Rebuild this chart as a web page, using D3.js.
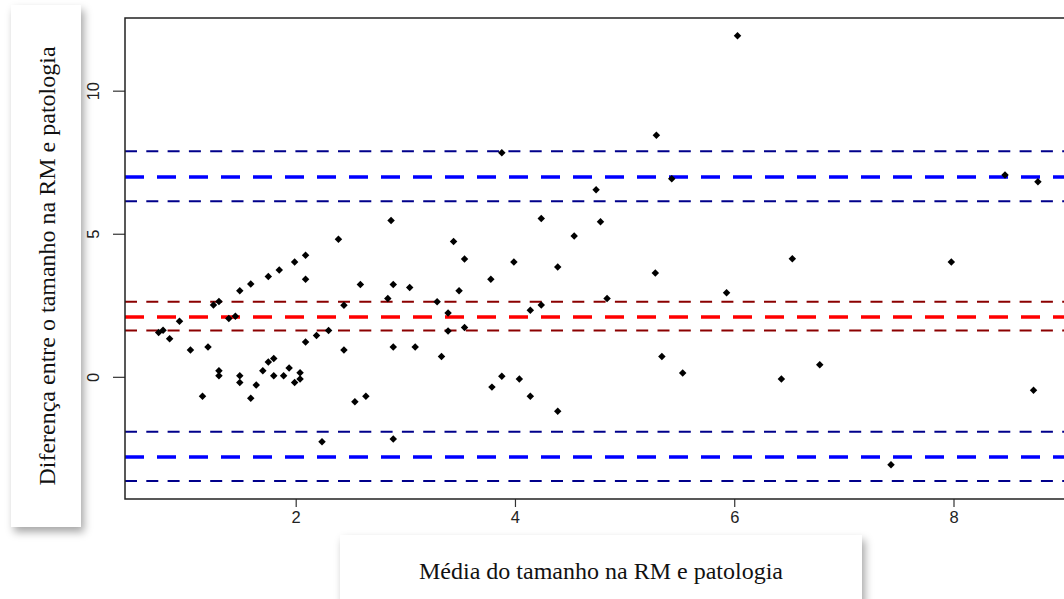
<!DOCTYPE html>
<html>
<head>
<meta charset="utf-8">
<script src="https://cdn.jsdelivr.net/npm/d3@7"></script>
<style>
  body { margin: 0; background: #fff; }
  svg { display: block; }
</style>
</head>
<body>
<div id="chart"></div>
<script>
// --- DATA ---
const meanVals = [0.75, 0.79, 0.85, 0.94, 1.04, 1.15, 1.20, 1.25, 1.30, 1.30, 1.30, 1.39, 1.45, 1.49, 1.49, 1.49,
  1.59, 1.59, 1.64, 1.70, 1.75, 1.75, 1.80, 1.80, 1.85, 1.89, 1.94, 1.99, 1.99, 2.04, 2.04, 2.09, 2.09, 2.09,
  2.19, 2.24, 2.30, 2.39, 2.44, 2.44, 2.54, 2.59, 2.64, 2.84, 2.89, 2.89, 2.89, 3.04, 3.09, 2.87, 3.29, 3.39,
  3.39, 3.33, 3.44, 3.49, 3.54, 3.54, 3.78, 3.79, 3.88, 3.88, 3.99, 4.04, 4.14, 4.14, 4.24, 4.24, 4.39, 4.39,
  4.54, 4.74, 4.78, 4.84, 5.29, 5.28, 5.34, 5.43, 5.53, 6.03, 5.93, 6.53, 6.43, 6.78, 7.43, 7.98, 8.47, 8.77, 8.73];
const diffVals = [1.55, 1.63, 1.33, 1.94, 0.94, -0.68, 1.04, 2.51, 2.63, 0.21, 0.04, 2.04, 2.12, 3.01, 0.04, -0.20,
  3.24, -0.75, -0.29, 0.21, 3.51, 0.52, 0.64, 0.04, 3.73, 0.04, 0.31, 4.01, -0.20, -0.08, 0.14, 4.25, 3.41, 1.22,
  1.44, -2.27, 1.62, 4.81, 2.50, 0.94, -0.87, 3.23, -0.68, 2.74, 3.23, 1.04, -2.17, 3.12, 1.04, 5.46, 2.62, 2.23,
  1.60, 0.71, 4.73, 3.01, 4.12, 1.72, 3.41, -0.36, 0.02, 7.83, 4.01, -0.08, 2.33, -0.68, 2.51, 5.53, 3.84, -1.20,
  4.92, 6.54, 5.42, 2.74, 8.44, 3.63, 0.71, 6.92, 0.13, 11.92, 2.94, 4.13, -0.08, 0.42, -3.07, 4.01, 7.05, 6.82, -0.47];

// reference lines: mean difference, limits of agreement and their CIs
const bias = 2.09, biasLo = 1.62, biasHi = 2.62;
const loaUp = 6.98, loaUpLo = 6.14, loaUpHi = 7.88;
const loaDn = -2.80, loaDnLo = -3.64, loaDnHi = -1.92;

const xTicks = [2, 4, 6, 8];
const yTicks = [0, 5, 10];
const xTitle = "Média do tamanho na RM e patologia";
const yTitle = "Diferença entre o tamanho na RM e patologia";

// --- SETUP ---
const width = 1064, height = 599;
const plot = { left: 125, top: 18, right: 1073, bottom: 499 };

const svg = d3.select("#chart").append("svg")
  .attr("width", width).attr("height", height);

const defs = svg.append("defs");
const shadow = defs.append("filter").attr("id", "shadow")
  .attr("x", "-20%").attr("y", "-10%").attr("width", "150%").attr("height", "130%");
shadow.append("feDropShadow")
  .attr("dx", 3).attr("dy", 5).attr("stdDeviation", 4)
  .attr("flood-color", "#000").attr("flood-opacity", 0.35);

defs.append("clipPath").attr("id", "clip").append("rect")
  .attr("x", plot.left).attr("y", plot.top)
  .attr("width", plot.right - plot.left).attr("height", plot.bottom - plot.top);

// Scales
const x = d3.scaleLinear().domain([0.443, 9.09]).range([plot.left, plot.right]);
const y = d3.scaleLinear().domain([-4.27, 12.54]).range([plot.bottom, plot.top]);

// Horizontal reference lines
const refLines = [
  { v: loaUpHi, color: "#00008B", w: 2, dash: "12 9.3" },
  { v: loaUp,   color: "#0000FF", w: 3.5, dash: "19 13" },
  { v: loaUpLo, color: "#00008B", w: 2, dash: "12 9.3" },
  { v: biasHi,  color: "#8B0000", w: 2, dash: "12 9.3" },
  { v: bias,    color: "#FF0000", w: 3.5, dash: "19 13" },
  { v: biasLo,  color: "#8B0000", w: 2, dash: "12 9.3" },
  { v: loaDnHi, color: "#00008B", w: 2, dash: "12 9.3" },
  { v: loaDn,   color: "#0000FF", w: 3.5, dash: "19 13" },
  { v: loaDnLo, color: "#00008B", w: 2, dash: "12 9.3" }
];

const inner = svg.append("g").attr("clip-path", "url(#clip)");
inner.selectAll(".ref")
  .data(refLines).enter().append("line")
  .attr("class", "ref")
  .attr("x1", plot.left).attr("x2", plot.right)
  .attr("y1", d => y(d.v)).attr("y2", d => y(d.v))
  .attr("stroke", d => d.color)
  .attr("stroke-width", d => d.w)
  .attr("stroke-dasharray", d => d.dash);

// Points (filled diamonds)
const points = meanVals.map((m, i) => ({ m, d: diffVals[i] }));
const diamond = d3.symbol().type(d3.symbolSquare).size(28);
inner.selectAll(".pt")
  .data(points).enter().append("path")
  .attr("class", "pt")
  .attr("d", diamond)
  .attr("transform", d => `translate(${x(d.m)},${y(d.d)}) rotate(45)`)
  .attr("fill", "#000");

// Axes (R style: box on left/top/bottom, detached ticks)
const xAxis = d3.axisBottom(x).tickValues(xTicks).tickSize(8).tickPadding(4).tickFormat(d3.format("d"));
const gx = svg.append("g").attr("transform", `translate(0,${plot.bottom})`).call(xAxis);
gx.select(".domain").remove();

const yAxis = d3.axisLeft(y).tickValues(yTicks).tickSize(12).tickPadding(0).tickFormat(d3.format("d"));
const gy = svg.append("g").attr("transform", `translate(${plot.left},0)`).call(yAxis);
gy.select(".domain").remove();
gy.selectAll(".tick text")
  .attr("x", null).attr("dy", null)
  .attr("text-anchor", "middle")
  .attr("transform", "translate(-32,0) rotate(-90) translate(0,6)");

[gx, gy].forEach(g => {
  g.selectAll(".tick line").attr("stroke", "#333").attr("stroke-width", 1.2);
  g.selectAll(".tick text")
    .attr("font-family", "Liberation Sans, Arial, sans-serif")
    .attr("font-size", 16.5).attr("fill", "#222");
});

// plot frame (left/top/bottom visible, right cut off by the page)
svg.append("path")
  .attr("d", `M${plot.right},${plot.top}H${plot.left}V${plot.bottom}H${plot.right}`)
  .attr("fill", "none").attr("stroke", "#222").attr("stroke-width", 1.5);

// --- TITLE BOXES ---
svg.append("rect")
  .attr("x", 11).attr("y", 5).attr("width", 70).attr("height", 522)
  .attr("fill", "#fff").attr("filter", "url(#shadow)");
svg.append("text")
  .attr("transform", "translate(55,266) rotate(-90)")
  .attr("text-anchor", "middle")
  .attr("font-family", "Liberation Serif, Times New Roman, serif")
  .attr("font-size", 24).attr("fill", "#111")
  .text(yTitle);

svg.append("rect")
  .attr("x", 340).attr("y", 535).attr("width", 522).attr("height", 80)
  .attr("fill", "#fff").attr("filter", "url(#shadow)");
svg.append("text")
  .attr("x", 601).attr("y", 579)
  .attr("text-anchor", "middle")
  .attr("font-family", "Liberation Serif, Times New Roman, serif")
  .attr("font-size", 24).attr("fill", "#111")
  .text(xTitle);
</script>
</body>
</html>
